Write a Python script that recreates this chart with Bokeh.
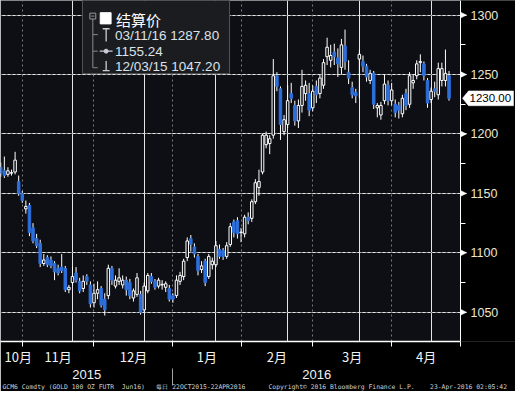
import pandas as pd
from bokeh.plotting import figure
from bokeh.models import (ColumnDataSource, Range1d, LinearAxis, FixedTicker, Grid, Title)
from bokeh.core.properties import value
from bokeh.embed import file_html
from bokeh.resources import INLINE

# ---------------- data ----------------
holidays = ["2015-11-26", "2015-12-25", "2016-01-01", "2016-01-18", "2016-02-15", "2016-03-25"]
dates = [d for d in pd.bdate_range("2015-10-22", "2016-04-22")
         if d.strftime("%Y-%m-%d") not in holidays]

opens = [1172, 1169, 1166, 1167, 1168, 1160, 1150, 1137, 1140, 1121,
         1112, 1108, 1091, 1096, 1094, 1091, 1087, 1088, 1087, 1069,
         1075, 1083, 1076, 1070, 1080, 1073, 1058, 1066, 1070, 1061,
         1064, 1087, 1072, 1076, 1073, 1077, 1075, 1062, 1065, 1065,
         1052, 1068, 1080, 1076, 1072, 1073, 1071, 1070, 1064, 1064,
         1076, 1080, 1096, 1112, 1105, 1097, 1086, 1093, 1080, 1090,
         1090, 1103, 1102, 1097, 1107, 1126, 1127, 1117, 1116, 1130,
         1129, 1143, 1155, 1168, 1191, 1192, 1199, 1249, 1238, 1202,
         1208, 1234, 1224, 1211, 1224, 1234, 1234, 1222, 1240, 1234,
         1241, 1265, 1262, 1269, 1264, 1256, 1274, 1252, 1239, 1235,
         1263, 1261, 1257, 1245, 1251, 1222, 1216, 1228, 1241, 1228,
         1225, 1224, 1217, 1234, 1225, 1243, 1249, 1260, 1259, 1245,
         1229, 1238, 1233, 1245, 1245, 1249]
highs = [1176, 1181, 1172, 1170, 1185, 1165, 1152, 1144, 1142, 1125,
         1116, 1111, 1099, 1098, 1097, 1093, 1090, 1099, 1089, 1073,
         1088, 1088, 1079, 1081, 1082, 1076, 1074, 1076, 1072, 1066,
         1090, 1089, 1081, 1087, 1081, 1080, 1078, 1070, 1083, 1068,
         1075, 1083, 1083, 1078, 1079, 1077, 1076, 1073, 1066, 1081,
         1084, 1095, 1113, 1115, 1108, 1099, 1093, 1095, 1099, 1096,
         1110, 1107, 1104, 1109, 1125, 1128, 1130, 1121, 1132, 1134,
         1145, 1162, 1170, 1200, 1202, 1199, 1263, 1252, 1240, 1216,
         1241, 1243, 1228, 1229, 1254, 1245, 1243, 1241, 1245, 1250,
         1263, 1281, 1275, 1276, 1272, 1280, 1287.8, 1262, 1244, 1238,
         1271, 1266, 1259, 1254, 1253, 1226, 1227, 1250, 1245, 1243,
         1229, 1227, 1233, 1238, 1252, 1250, 1262, 1267, 1261, 1247,
         1239, 1244, 1260, 1260, 1271, 1253]
lows = [1164, 1163, 1164, 1165, 1166, 1148, 1142, 1133, 1114, 1108,
        1104, 1088, 1089, 1088, 1087, 1077, 1081, 1083, 1067, 1066,
        1073, 1075, 1066, 1067, 1073, 1054, 1054, 1061, 1054, 1047.2,
        1061, 1073, 1070, 1073, 1070, 1064, 1061, 1059, 1063, 1048,
        1050, 1066, 1074, 1069, 1070, 1069, 1067, 1059, 1058, 1062,
        1073, 1077, 1093, 1101, 1096, 1081, 1083, 1072, 1078, 1086,
        1088, 1095, 1094, 1095, 1105, 1113, 1112, 1109, 1113, 1124,
        1126, 1141, 1148, 1166, 1188, 1183, 1196, 1236, 1195, 1199,
        1205, 1226, 1207, 1205, 1218, 1228, 1215, 1219, 1226, 1230,
        1238, 1258, 1256, 1258, 1248, 1250, 1254, 1242, 1230, 1226,
        1230, 1252, 1244, 1242, 1221, 1214, 1212, 1225, 1224, 1224,
        1214, 1213, 1214, 1220, 1222, 1238, 1246, 1252, 1245, 1222,
        1226, 1231, 1229, 1240, 1240, 1228]
closes = [1167, 1165, 1169, 1167.5, 1178, 1150, 1144, 1139, 1117, 1110,
          1106, 1091, 1094, 1090, 1089, 1084, 1083, 1085, 1069, 1071,
          1080, 1077, 1068, 1076, 1076, 1057, 1066, 1069, 1056, 1052,
          1087, 1077, 1077, 1079, 1077, 1069, 1064, 1068, 1079, 1050,
          1072, 1081, 1076, 1071, 1077, 1073.5, 1074, 1061, 1061, 1077,
          1081, 1093, 1110, 1107, 1099, 1085, 1089, 1075, 1097, 1093,
          1106, 1097, 1097, 1106, 1122, 1117, 1116, 1117.5, 1130, 1127,
          1143, 1159, 1160, 1199, 1199, 1196, 1249, 1240, 1208, 1212,
          1228, 1230, 1211, 1224, 1240, 1241, 1220, 1236, 1233, 1247,
          1260, 1273, 1266, 1265, 1259, 1275, 1261, 1247, 1233, 1232,
          1267, 1257, 1248, 1251, 1225, 1224, 1224, 1242, 1228, 1237,
          1218, 1220, 1230, 1224, 1249, 1245, 1259, 1261, 1249, 1226,
          1236, 1236, 1255, 1255, 1251, 1230]

y_ticks = [1050, 1100, 1150, 1200, 1250, 1300]
y_minor = [1025, 1075, 1125, 1175, 1225, 1275]
month_labels = ["10月", "11月", "12月", "1月", "2月", "3月", "4月"]
year_labels = ["2015", "2016"]
last_price = 1230
legend_title = "结算价"
legend_high = "03/11/16 1287.80"
legend_avg = "1155.24"
legend_low = "12/03/15 1047.20"
footer_parts = ["GCM6 Comdty (GOLD 100 OZ FUTR  Jun16)", "每日", "22OCT2015-22APR2016",
                "Copyright© 2016 Bloomberg Finance L.P.", "23-Apr-2016 02:05:42"]

# ---------------- styles / geometry ----------------
BG = "#0d0f15"
BLUE = "#2d6fdc"
GRID = "#7a7a7a"
AXIS_TXT = "#ece6cf"
W, H = 515, 391
PLOT_W, FRAME_H = 460, 345          # candle area width, frame height (pixels)
NB = "\u00a0"

n = len(dates)
idx = list(range(n))
X0, XA = -0.07, 128.2               # candle-area x extent (index units); XA = price axis
XE = X0 + (XA - X0) * W / PLOT_W    # frame extends over the price-axis column
Y0, Y1 = 1025.4, 1312.3
PXX = (XE - X0) / W                 # one pixel in index units
PXY = (Y1 - Y0) / FRAME_H           # one pixel in price units


def X(px):  # reference-pixel -> index units
    return (px - 0.25) / 3.632


def Y(py):  # reference-pixel -> price units
    return 1050 + (320 - py) * 50 / 61


up = [i for i in idx if closes[i] >= opens[i]]
dn = [i for i in idx if closes[i] < opens[i]]
src_all = ColumnDataSource(dict(x=idx, h=highs, l=lows))
src_up = ColumnDataSource(dict(x=up, o=[opens[i] for i in up], c=[closes[i] for i in up]))
src_dn = ColumnDataSource(dict(x=dn, o=[opens[i] for i in dn], c=[closes[i] for i in dn]))

p = figure(width=W, height=H, output_backend="svg", toolbar_location=None,
           x_range=Range1d(X0, XE), y_range=Range1d(Y0, Y1),
           x_axis_location=None, y_axis_location=None,
           min_border_left=0, min_border_top=0, min_border_right=0,
           min_border_bottom=H - FRAME_H)
p.background_fill_color = BG
p.border_fill_color = "black"
p.outline_line_color = None

# month boundaries (last trading day of each month)
bounds = [i for i in range(n - 1) if dates[i].month != dates[i + 1].month]
edges = [X0] + bounds + [XA]
month_pos = [round((edges[k] + edges[k + 1]) / 2, 2) for k in range(len(edges) - 1)]
month_pos[0] = round(max(month_pos[0], X(18)), 2)
ybreak = bounds[2]
year_pos = [round((X0 + ybreak) / 2, 2), round((ybreak + XA) / 2, 2)]

# grids
p.add_layout(Grid(dimension=1, ticker=FixedTicker(ticks=y_ticks), grid_line_color=GRID,
                  grid_line_dash="2 3", grid_line_width=1))
p.add_layout(Grid(dimension=0, ticker=FixedTicker(ticks=bounds), grid_line_color=GRID,
                  grid_line_dash="2 3", grid_line_width=1))

# black column for the price scale
p.quad(left=[XA], right=[XE + 1], top=[Y1 + 5], bottom=[Y0 - 5], fill_color="black",
       line_color=None)

# price axis, fixed on the edge of the candle area
ax_r = LinearAxis(ticker=FixedTicker(ticks=y_ticks, minor_ticks=y_minor), fixed_location=XA)
ax_r.axis_line_color = "white"
ax_r.major_tick_line_color = "white"
ax_r.major_tick_line_width = 1
ax_r.major_tick_in = 0
ax_r.major_tick_out = 6
ax_r.minor_tick_line_color = "white"
ax_r.minor_tick_in = 0
ax_r.minor_tick_out = 5
ax_r.major_label_text_color = AXIS_TXT
ax_r.major_label_text_font = "Liberation Sans"
ax_r.major_label_text_font_size = "12.5px"
ax_r.major_label_standoff = 4
p.add_layout(ax_r, "right")

# arrow heads on the major ticks
p.patches(xs=[[XA, XA + 6 * PXX, XA] for v in y_ticks],
          ys=[[v + 3 * PXY, v, v - 3 * PXY] for v in y_ticks],
          fill_color="white", line_color="white", line_width=0.5)

# last-price tag
p.patch(x=[XA + 2 * PXX, XA + 8 * PXX, XA + 53 * PXX, XA + 53 * PXX, XA + 8 * PXX],
        y=[last_price, last_price + 7.5 * PXY, last_price + 7.5 * PXY,
           last_price - 7.5 * PXY, last_price - 7.5 * PXY],
        fill_color="white", line_color="white", line_width=0.5)
p.text(x=[XA + 9 * PXX], y=[last_price], text=[f"{last_price:.2f}"], text_color="black",
       text_font=value("Liberation Sans"), text_font_size="11.5px", text_baseline="middle",
       text_align="left")

# month axis
ax_m = LinearAxis(ticker=FixedTicker(ticks=month_pos, minor_ticks=bounds + [XA]),
                  major_label_overrides={month_pos[k]: month_labels[k] for k in range(len(month_pos))},
                  bounds=(X0, XA))
ax_m.axis_line_color = "white"
ax_m.axis_line_width = 1.5
ax_m.major_tick_line_color = None
ax_m.major_tick_out = 0
ax_m.major_tick_in = 0
ax_m.minor_tick_line_color = "white"
ax_m.minor_tick_in = 0
ax_m.minor_tick_out = 5
ax_m.major_label_text_color = "#f2f2f2"
ax_m.major_label_text_font = "Noto Sans CJK SC"
ax_m.major_label_text_font_size = "13px"
ax_m.major_label_standoff = 0
p.add_layout(ax_m, "below")

# year axis
ax_y = LinearAxis(ticker=FixedTicker(ticks=year_pos, minor_ticks=[ybreak]),
                  major_label_overrides={year_pos[k]: year_labels[k] for k in range(2)},
                  bounds=(X0, XA))
ax_y.axis_line_color = None
ax_y.major_tick_line_color = None
ax_y.major_tick_out = 0
ax_y.major_tick_in = 0
ax_y.minor_tick_line_color = "#a0a0a0"
ax_y.minor_tick_in = 0
ax_y.minor_tick_out = 17
ax_y.major_label_text_color = "#f2f2f2"
ax_y.major_label_text_font = "Liberation Sans"
ax_y.major_label_text_font_size = "13px"
ax_y.major_label_standoff = -16
p.add_layout(ax_y, "below")

# footer line (monospace, gaps kept with no-break spaces)
fp = [s.replace(" ", NB) for s in footer_parts]
footer_text = fp[0] + NB * 3 + fp[1] + NB + fp[2] + NB * 6 + fp[3] + NB * 4 + fp[4]
p.add_layout(Title(text=footer_text, align="left", vertical_align="middle", text_color="#cfcfcf",
                   text_font="DejaVu Sans Mono", text_font_size="6.4px",
                   text_font_style="normal", standoff=0, offset=2), "below")

# candles
p.segment(x0="x", y0="l", x1="x", y1="h", source=src_all, line_color="white", line_width=1)
p.vbar(x="x", width=0.7, top="c", bottom="o", source=src_up, fill_color=BG,
       line_color="white", line_width=1)
p.vbar(x="x", width=0.7, top="o", bottom="c", source=src_dn, fill_color=BLUE,
       line_color=BLUE, line_width=1)

# legend box
p.quad(left=[X(83)], right=[X(232)], top=[Y(-2)], bottom=[Y(75)],
       fill_color="#1b1c1f", line_color="#555555", line_width=1)
p.quad(left=[X(90.5)], right=[X(96.5)], top=[Y(13)], bottom=[Y(19)],
       fill_color=None, line_color="#9a9a9a", line_width=1)
p.segment(x0=[X(91.7), X(93.5), X(93.5), X(93.5), X(93.5)],
          y0=[Y(16), Y(19), Y(35), Y(52), Y(69)],
          x1=[X(95.3), X(93.5), X(98.5), X(98.5), X(98.5)],
          y1=[Y(16), Y(69), Y(35), Y(52), Y(69)],
          line_color="#8a8a8a", line_width=1)
p.quad(left=[X(101)], right=[X(112)], top=[Y(12.5)], bottom=[Y(24)],
       fill_color="white", line_color="white")
p.segment(x0=[X(103.5), X(107), X(100.5), X(107), X(103.5)],
          y0=[Y(29), Y(29), Y(52), Y(62), Y(72)],
          x1=[X(110.5), X(107), X(113.5), X(107), X(110.5)],
          y1=[Y(29), Y(42), Y(52), Y(72), Y(72)],
          line_color="#c8ced8", line_width=1.3)
p.scatter(x=[X(107)], y=[Y(52)], size=4, marker="circle", fill_color="#c8ced8", line_color="#c8ced8")
p.text(x=[X(117)], y=[Y(19.5)], text=[legend_title], text_color="white",
       text_font=value("Noto Sans CJK SC"), text_font_size="15px", text_baseline="middle")
p.text(x=[X(116)] * 3, y=[Y(36), Y(52), Y(68)], text=[legend_high, legend_avg, legend_low],
       text_color="#dde3ea", text_font=value("Liberation Sans"), text_font_size="13.5px",
       text_baseline="middle")

open("out.html", "w").write(file_html(p, INLINE))
